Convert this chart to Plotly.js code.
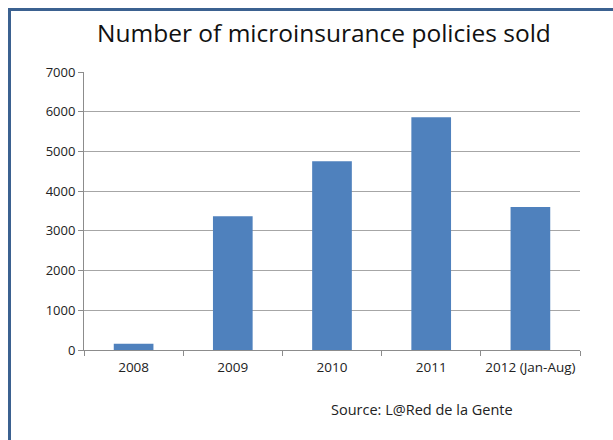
<!DOCTYPE html>
<html>
<head>
<meta charset="utf-8">
<script src="https://cdn.plot.ly/plotly-3.0.1.min.js"></script>
<style>html,body{margin:0;padding:0;background:#fff;}#chart{width:613px;height:440px;}</style>
</head>
<body>
<div id="chart"></div>
<script>
const categories = ["2008", "2009", "2010", "2011", "2012 (Jan-Aug)"];
const policiesSold = [160, 3370, 4750, 5860, 3600];
const yTicks = [0, 1000, 2000, 3000, 4000, 5000, 6000, 7000];
const chartTitle = "Number of microinsurance policies sold";
const sourceNote = "Source: L@Red de la Gente";

const font = "Open Sans, Noto Sans, sans-serif";
const trace = {
  type: "bar",
  x: categories,
  y: policiesSold,
  marker: {color: "#4f81bd"},
  width: 0.4,
  hoverinfo: "x+y"
};
const borderColor = "#3b6190";
const layout = {
  width: 613, height: 440,
  margin: {l: 84, r: 33, t: 72, b: 90},
  paper_bgcolor: "#ffffff",
  plot_bgcolor: "#ffffff",
  showlegend: false,
  title: {text: chartTitle, font: {family: font, size: 24.5, color: "#111"},
          x: 0.5285, xanchor: "center", xref: "container",
          y: 0.925, yanchor: "middle", yref: "container"},
  xaxis: {
    type: "category",
    showline: true, linecolor: "#8c8c8c", linewidth: 1,
    ticks: "outside", tickson: "boundaries", ticklen: 5, tickcolor: "#8c8c8c",
    ticklabelstandoff: 5, tickangle: 0,
    tickfont: {family: font, size: 13.5, color: "#222"},
    showgrid: false, zeroline: false
  },
  yaxis: {
    range: [0, 7000],
    tickvals: yTicks,
    ticktext: yTicks.map(String),
    showline: true, linecolor: "#8c8c8c", linewidth: 1,
    ticks: "outside", ticklen: 5, tickcolor: "#8c8c8c",
    showgrid: true, gridcolor: "#a6a6a6", gridwidth: 1,
    zeroline: false,
    tickfont: {family: font, size: 13, color: "#222"}
  },
  annotations: [{
    text: sourceNote, xref: "paper", yref: "paper",
    x: 0.681, y: -0.215, xanchor: "center", yanchor: "middle",
    showarrow: false, font: {family: font, size: 14.5, color: "#222"}
  }],
  shapes: [
    {type: "line", xref: "paper", yref: "paper", x0: -0.1502, x1: -0.1502, y0: 1.2248 + 0.003, y1: -0.4,
     line: {color: borderColor, width: 3}},
    {type: "line", xref: "paper", yref: "paper", x0: -0.1532, x1: 1.2, y0: 1.2248, y1: 1.2248,
     line: {color: borderColor, width: 3}}
  ]
};
Plotly.newPlot("chart", [trace], layout, {displayModeBar: false, staticPlot: true});
</script>
</body>
</html>
